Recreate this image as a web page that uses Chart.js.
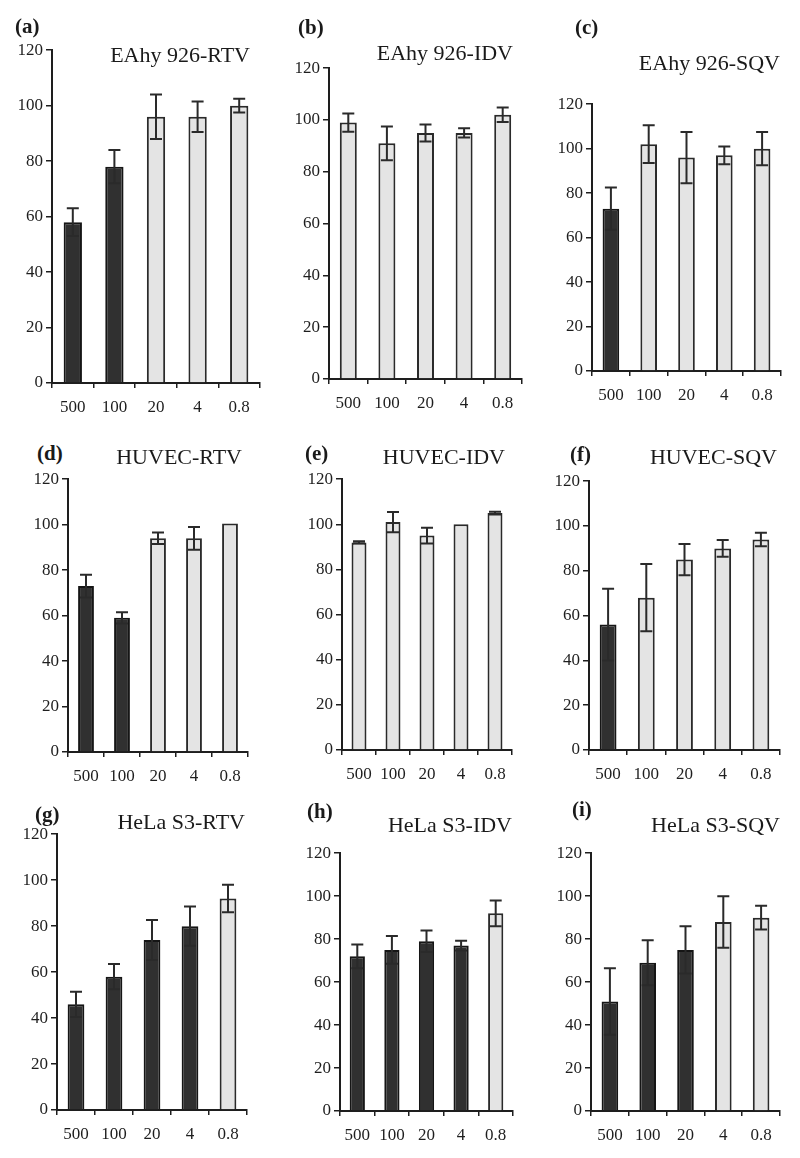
<!DOCTYPE html>
<html><head><meta charset="utf-8">
<script src="https://cdn.jsdelivr.net/npm/chart.js@4.4.1/dist/chart.umd.min.js"></script>
<style>
html,body{margin:0;padding:0;background:#fff;}
body{width:800px;height:1158px;position:relative;overflow:hidden;font-family:"Liberation Serif","Times New Roman",serif;color:#1a1a1a;}
.panel{position:absolute;}
.lab{position:absolute;font-weight:bold;font-size:21px;line-height:1;white-space:nowrap;}
.ttl{position:absolute;font-size:22px;line-height:1;white-space:nowrap;text-align:right;}
</style></head><body>
<script>
// ---- data ----
const categories = ['500', '100', '20', '4', '0.8'];
const yTickMin = 0, yTickMax = 120, yTickStep = 20;

const titles = ['EAhy 926-RTV','EAhy 926-IDV','EAhy 926-SQV','HUVEC-RTV','HUVEC-IDV','HUVEC-SQV','HeLa S3-RTV','HeLa S3-IDV','HeLa S3-SQV'];
const panelLetters = ['(a)','(b)','(c)','(d)','(e)','(f)','(g)','(h)','(i)'];

const eahyRtv  = [58, 78, 96, 96, 100];
const eahyRtvErr = [5, 6, 8, 5.5, 2.5];
const eahyRtvDark = [1, 1, 0, 0, 0];

const eahyIdv  = [99, 91, 95, 95, 102];
const eahyIdvErr = [3.5, 6.5, 3.3, 1.8, 2.8];
const eahyIdvDark = [0, 0, 0, 0, 0];

const eahySqv  = [73, 102, 96, 97, 100];
const eahySqvErr = [9.5, 8.5, 11.5, 4, 7.5];
const eahySqvDark = [1, 0, 0, 0, 0];

const huvecRtv = [73, 59, 94, 94, 100.5];
const huvecRtvErr = [5, 2.5, 2.5, 5, 0];
const huvecRtvDark = [1, 1, 0, 0, 0];

const huvecIdv = [92, 101, 95, 100, 105];
const huvecIdvErr = [0.5, 4.5, 3.5, 0, 0.6];
const huvecIdvDark = [0, 0, 0, 0, 0];

const huvecSqv = [56, 68, 85, 90, 94];
const huvecSqvErr = [16, 15, 7, 3.7, 3];
const huvecSqvDark = [1, 0, 0, 0, 0];

const helaRtv  = [46, 58, 74, 80, 92];
const helaRtvErr = [5.5, 5.5, 8.7, 8.5, 6];
const helaRtvDark = [1, 1, 1, 1, 0];

const helaIdv  = [72, 75, 79, 77, 92];
const helaIdvErr = [5.5, 6.5, 5, 2.3, 6];
const helaIdvDark = [1, 1, 1, 1, 0];

const helaSqv  = [51, 69, 75, 88, 90];
const helaSqvErr = [15.5, 10.5, 11, 12, 5.5];
const helaSqvDark = [1, 1, 1, 0, 0];

const panelValues = [eahyRtv, eahyIdv, eahySqv, huvecRtv, huvecIdv, huvecSqv, helaRtv, helaIdv, helaSqv];
const panelErrors = [eahyRtvErr, eahyIdvErr, eahySqvErr, huvecRtvErr, huvecIdvErr, huvecSqvErr, helaRtvErr, helaIdvErr, helaSqvErr];
const panelDark = [eahyRtvDark, eahyIdvDark, eahySqvDark, huvecRtvDark, huvecIdvDark, huvecSqvDark, helaRtvDark, helaIdvDark, helaSqvDark];

// ---- layout (pixel geometry of each panel's plot area) ----
const geom = [
  {ax:52,  xe:260, t:49,  b:383,  lx:15,  ly:27,  tr:250, ty:55},
  {ax:329, xe:522, t:67,  b:379,  lx:298, ly:28,  tr:513, ty:53},
  {ax:592, xe:781, t:103, b:371,  lx:575, ly:28,  tr:780, ty:63},
  {ax:68,  xe:248, t:478, b:752,  lx:37,  ly:454, tr:242, ty:457},
  {ax:342, xe:512, t:478, b:750,  lx:305, ly:454, tr:505, ty:457},
  {ax:589, xe:780, t:480, b:750,  lx:570, ly:455, tr:777, ty:457},
  {ax:57,  xe:247, t:833, b:1110, lx:35,  ly:815, tr:245, ty:822},
  {ax:340, xe:513, t:852, b:1111, lx:307, ly:812, tr:512, ty:825},
  {ax:591, xe:780, t:852, b:1111, lx:572, ly:810, tr:780, ty:825}
];

const FONT = '"Liberation Serif","Times New Roman",serif';
const INK = '#1e1e1e';
const DARK_FILL = '#303030', LIGHT_FILL = '#e4e4e4';
const YW = 50, PT = 12, PR = 6, XH = 42;

const errorBars = {
  id: 'errorBars',
  afterDatasetsDraw(chart) {
    const ctx = chart.ctx, ys = chart.scales.y;
    chart.data.datasets.forEach((ds, i) => {
      const meta = chart.getDatasetMeta(i);
      meta.data.forEach((bar, j) => {
        const e = ds.errors[j];
        if (!e) return;
        const v = ds.data[j];
        const yt = ys.getPixelForValue(v + e), yb = ys.getPixelForValue(v - e);
        const x = bar.x, cw = 6;
        ctx.save();
        ctx.strokeStyle = '#2a2a2a';
        ctx.lineWidth = 2;
        ctx.beginPath();
        ctx.moveTo(x, yt); ctx.lineTo(x, yb);
        ctx.moveTo(x - cw, yt); ctx.lineTo(x + cw, yt);
        ctx.moveTo(x - cw, yb); ctx.lineTo(x + cw, yb);
        ctx.stroke();
        ctx.restore();
      });
    });
  }
};

geom.forEach((g, k) => {
  const w = (g.xe - g.ax) + YW + PR;
  const h = (g.b - g.t) + PT + XH;
  const div = document.createElement('div');
  div.className = 'panel';
  div.style.left = (g.ax - YW) + 'px';
  div.style.top = (g.t - PT) + 'px';
  div.style.width = w + 'px';
  div.style.height = h + 'px';
  const cv = document.createElement('canvas');
  cv.width = w; cv.height = h;
  cv.style.width = w + 'px'; cv.style.height = h + 'px';
  div.appendChild(cv);
  document.body.appendChild(div);

  const lab = document.createElement('div');
  lab.className = 'lab';
  lab.textContent = panelLetters[k];
  lab.style.left = g.lx + 'px';
  lab.style.top = (g.ly - 11) + 'px';
  document.body.appendChild(lab);

  const ttl = document.createElement('div');
  ttl.className = 'ttl';
  ttl.textContent = titles[k];
  ttl.style.right = (800 - g.tr) + 'px';
  ttl.style.top = (g.ty - 11) + 'px';
  document.body.appendChild(ttl);

  const dark = panelDark[k];
  new Chart(cv, {
    type: 'bar',
    data: {
      labels: categories,
      datasets: [{
        data: panelValues[k],
        errors: panelErrors[k],
        backgroundColor: dark.map(d => d ? DARK_FILL : LIGHT_FILL),
        borderColor: dark.map(d => d ? '#151515' : '#2a2a2a'),
        borderWidth: 2,
        borderSkipped: 'bottom',
        barPercentage: 0.44,
        categoryPercentage: 1.0
      }]
    },
    options: {
      responsive: false,
      animation: false,
      devicePixelRatio: 1,
      layout: {padding: {top: PT, right: PR, left: 0, bottom: 0}},
      plugins: {legend: {display: false}, tooltip: {enabled: false}},
      scales: {
        x: {
          offset: true,
          grid: {display: true, drawOnChartArea: false, drawTicks: true, tickLength: 5, offset: true, color: INK, lineWidth: 1.5},
          border: {display: true, color: INK, width: 2},
          ticks: {color: INK, font: {family: FONT, size: 17}, padding: 9, maxRotation: 0, autoSkip: false},
          afterFit(s) { s.height = XH; }
        },
        y: {
          min: yTickMin, max: yTickMax,
          grid: {display: true, drawOnChartArea: false, drawTicks: true, tickLength: 6, color: INK, lineWidth: 1.5},
          border: {display: true, color: INK, width: 2},
          ticks: {stepSize: yTickStep, color: INK, font: {family: FONT, size: 17}, padding: 3},
          afterFit(s) { s.width = YW; }
        }
      }
    },
    plugins: [errorBars]
  });
});
</script>
</body></html>
